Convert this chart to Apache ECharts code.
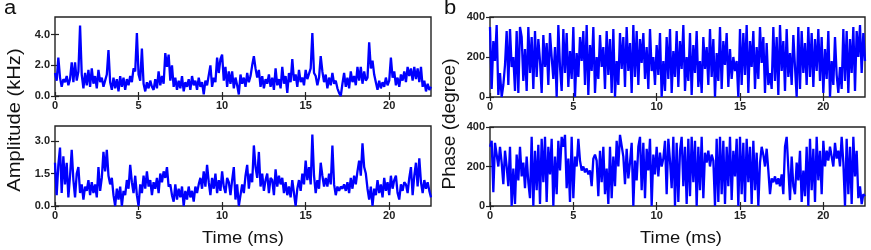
<!DOCTYPE html>
<html><head><meta charset="utf-8">
<script src="https://cdn.jsdelivr.net/npm/echarts@6/dist/echarts.min.js"></script>
<style>html,body{margin:0;padding:0;background:#fff}#c{width:871px;height:250px}</style>
</head><body><div id="c"></div>
<script>
// sampling step of the time axis (ms)
var timeStep = 0.1;
var xTicks = [0, 5, 10, 15, 20];
var ampTopTicks = [0, 2, 4];
var ampBotTicks = [0, 1.5, 3];
var phaseTicks = [0, 200, 400];

var ampTop = [
1.5,1.0,2.5,1.2,0.6,1.1,0.9,1.3,0.7,1.1,
2.2,0.9,2.2,1.0,1.6,4.6,1.4,0.5,1.5,0.7,
1.7,0.6,1.8,0.8,1.3,0.5,1.7,0.9,1.2,0.6,
1.0,1.4,3.0,0.9,0.4,1.2,0.5,1.1,0.3,1.3,
0.6,1.2,0.4,1.1,0.7,1.3,0.9,1.8,1.6,4.1,
1.4,1.0,3.1,0.8,0.3,0.9,0.5,1.0,0.6,0.4,
1.1,0.5,1.6,0.7,1.3,0.8,2.8,1.9,2.7,1.0,
2.0,0.6,1.2,0.4,1.0,0.5,1.3,0.3,0.9,0.6,
1.1,0.4,1.3,0.7,1.0,0.4,1.2,0.6,0.9,0.1,
1.0,0.7,0.8,2.0,0.6,1.2,0.9,2.5,1.5,2.4,
2.7,1.0,1.9,0.6,1.6,0.8,1.6,0.5,1.2,0.7,
0.1,1.4,0.8,1.2,0.6,1.5,0.9,1.3,2.0,2.6,
1.8,1.2,1.7,0.6,1.3,0.5,1.1,0.8,1.4,0.6,
1.2,0.4,1.8,0.7,1.1,0.5,1.9,0.8,1.3,0.2,
1.5,0.9,2.4,1.0,1.4,0.6,1.7,0.9,1.2,0.7,
1.7,1.1,1.0,1.8,4.1,1.5,1.3,0.7,1.2,2.6,
1.6,0.9,1.4,0.5,1.2,0.7,1.5,0.8,1.0,0.5,
0.2,0.0,0.8,1.5,0.6,1.2,0.5,1.6,0.9,1.3,
0.7,1.9,1.0,1.9,0.8,1.6,1.0,1.2,3.5,1.8,
2.3,1.4,0.9,0.4,1.0,0.5,0.9,0.6,1.2,0.7,
1.0,2.5,1.2,1.6,0.7,1.2,0.6,1.4,1.0,1.6,
0.9,1.9,1.3,1.8,1.0,1.9,1.1,1.8,0.9,1.9,
0.6,1.0,0.3,0.8,0.4,0.6
];

var ampBot = [
2.0,0.5,1.9,2.7,0.6,2.3,1.0,2.0,0.4,1.4,
2.6,1.2,0.4,1.5,1.8,0.6,1.0,0.3,0.9,0.7,
1.2,0.5,1.1,0.6,1.0,0.4,1.8,0.7,1.3,2.5,
1.6,2.6,1.4,1.0,1.3,0.5,0.0,0.8,0.3,0.9,
0.0,0.7,0.5,1.2,0.8,1.9,1.1,0.6,1.4,0.5,
0.0,1.0,0.6,1.4,0.8,1.6,0.9,1.2,0.5,1.1,
0.8,1.3,0.6,1.5,1.1,1.6,1.3,1.8,0.9,1.0,
0.5,0.2,1.0,0.3,0.8,0.4,0.9,0.0,0.7,0.3,
0.9,0.4,0.7,0.2,0.9,0.6,1.0,1.3,0.8,1.6,
0.9,1.9,1.1,0.5,1.3,0.8,1.5,0.6,1.2,0.7,
1.6,0.9,0.6,1.3,1.1,0.5,1.2,1.8,0.3,1.0,
0.0,0.5,1.0,0.6,1.4,1.9,0.8,1.5,1.1,2.8,
1.8,1.3,2.5,0.9,1.5,0.7,1.2,1.5,0.6,1.3,
1.2,0.5,1.7,0.9,1.4,1.0,1.3,0.6,1.1,0.5,
0.9,0.4,1.2,0.6,0.0,0.8,1.2,0.7,1.5,1.0,
2.1,1.2,1.8,1.0,3.3,1.4,0.6,1.2,0.8,2.0,
1.4,0.9,1.3,0.9,1.5,1.0,2.8,1.0,0.5,0.9,
0.7,0.9,0.8,1.0,0.7,1.1,0.6,1.3,0.8,1.4,
1.0,1.6,2.1,1.4,2.9,1.8,1.5,0.8,0.3,0.9,
0.0,0.8,0.5,1.2,0.6,1.0,0.4,1.3,0.7,1.1,
0.5,1.4,0.8,1.2,1.4,0.6,0.3,1.0,0.7,1.1,
1.0,0.6,1.3,1.8,0.5,1.4,2.0,0.9,2.2,1.1,
0.6,1.2,0.8,1.1,0.7,0.4
];

var phaseTop = [
350,40,280,180,360,10,120,0,60,160,
330,60,340,150,200,30,330,20,350,300,
80,240,30,350,120,300,40,330,100,290,
180,20,310,150,270,60,320,200,90,250,
0,360,150,30,340,120,320,50,230,90,
350,0,220,100,300,180,330,60,360,10,
260,130,350,20,200,90,310,150,250,40,
330,110,290,20,340,0,180,60,320,140,
300,50,350,130,270,20,360,100,330,60,
290,170,320,90,250,40,340,130,200,60,
260,110,320,0,180,30,300,90,340,20,
230,100,330,50,280,140,360,30,200,80,
320,10,260,120,330,50,180,20,300,140,
250,60,340,100,290,0,220,80,350,40,
280,160,320,50,240,90,200,130,180,0,
340,60,320,110,360,20,280,150,330,40,
250,90,350,170,300,20,270,60,120,40,
350,80,300,10,360,130,280,30,340,100,
220,60,310,150,0,350,40,330,120,270,
60,350,100,320,50,290,130,340,80,300,
20,240,90,330,0,180,60,300,110,20,
150,40,340,80,330,20,290,120,350,30,
330,200,360,120,320,180
];

var phaseBot = [
300,330,70,320,330,200,300,220,110,280,
200,100,300,0,190,10,260,130,300,150,
220,90,250,120,40,350,0,280,80,310,
10,340,120,350,20,300,160,340,0,250,
60,330,180,350,300,360,90,240,20,350,
40,250,200,340,230,180,200,170,190,160,
180,100,240,260,230,50,280,120,300,60,
190,10,300,40,250,100,330,200,360,355,
250,110,290,140,220,320,0,230,130,300,
350,80,320,40,290,180,340,0,260,160,
300,150,270,200,240,330,60,340,230,90,
350,0,320,20,280,350,100,300,10,340,
50,350,120,330,0,300,80,350,40,270,
220,280,200,260,230,0,340,20,350,60,
330,10,300,100,350,30,280,150,340,0,
350,60,320,20,340,120,300,10,330,80,
270,0,220,300,260,200,290,180,60,140,
120,150,110,140,100,160,60,300,350,340,
30,250,100,60,220,130,280,20,180,50,
300,0,340,80,290,20,350,130,280,60,
330,200,280,230,300,250,200,320,240,280,
200,350,220,0,340,60,300,10,350,150,
280,40,100,10,60,50
];

function pairs(arr){
  return arr.map(function(v,i){ return [+(i*timeStep).toFixed(2), v]; });
}

var labelStyle = {fontFamily:'Liberation Sans, Arial, sans-serif', fontWeight:'bold', fontSize:11, color:'#222'};
var grids = [
  {left:55, top:17, width:376, height:79},
  {left:55, top:126, width:376, height:80},
  {left:490, top:17, width:375, height:80},
  {left:490, top:127, width:375, height:79}
];
grids.forEach(function(g){ g.show = true; g.borderColor = '#222'; g.borderWidth = 1.4; g.backgroundColor = 'transparent'; });

var yCfg = [
  {max:5.15, ticks:ampTopTicks, fmt:function(v){return v.toFixed(1);}},
  {max:3.7, ticks:ampBotTicks, fmt:function(v){return v.toFixed(1);}},
  {max:400, ticks:phaseTicks, fmt:function(v){return String(v);}},
  {max:400, ticks:phaseTicks, fmt:function(v){return String(v);}}
];

var xAxes = [], yAxes = [], series = [];
var datasets = [ampTop, ampBot, phaseTop, phaseBot];
for (var i=0;i<4;i++){
  xAxes.push({type:'value', gridIndex:i, min:0, max:22.5, position:'bottom',
    axisLine:{show:false}, splitLine:{show:false},
    axisTick:{show:true, inside:true, length:4, customValues:xTicks, lineStyle:{color:'#222', width:1.2}},
    axisLabel:Object.assign({show:true, margin:4, customValues:xTicks}, labelStyle)});
  xAxes.push({type:'value', gridIndex:i, min:0, max:22.5, position:'top',
    axisLine:{show:false}, splitLine:{show:false},
    axisTick:{show:true, inside:true, length:4, customValues:xTicks, lineStyle:{color:'#222', width:1.2}},
    axisLabel:{show:false}});
  var yc = yCfg[i];
  yAxes.push({type:'value', gridIndex:i, min:0, max:yc.max, position:'left',
    axisLine:{show:false}, splitLine:{show:false},
    axisTick:{show:true, inside:true, length:4, customValues:yc.ticks, lineStyle:{color:'#222', width:1.2}},
    axisLabel:Object.assign({show:true, margin:5, customValues:yc.ticks, formatter:yc.fmt}, labelStyle)});
  yAxes.push({type:'value', gridIndex:i, min:0, max:yc.max, position:'right',
    axisLine:{show:false}, splitLine:{show:false},
    axisTick:{show:true, inside:true, length:4, customValues:yc.ticks, lineStyle:{color:'#222', width:1.2}},
    axisLabel:{show:false}});
  series.push({type:'line', xAxisIndex:2*i, yAxisIndex:2*i, data:pairs(datasets[i]),
    showSymbol:false, symbol:'none', lineStyle:{color:'#0000ff', width:2.3}, animation:false, clip:true});
}

var titleFont = 'Liberation Sans, Arial, sans-serif';
var chart = echarts.init(document.getElementById('c'), null, {renderer:'canvas'});
chart.setOption({
  animation:false,
  grid:grids, xAxis:xAxes, yAxis:yAxes, series:series,
  graphic:[
    {type:'text', x:4, y:8, scaleX:1.1, style:{text:'a', font:'20px '+titleFont, fill:'#111', align:'left', verticalAlign:'middle'}},
    {type:'text', x:444, y:8, scaleX:1.1, style:{text:'b', font:'20px '+titleFont, fill:'#111', align:'left', verticalAlign:'middle'}},
    {type:'text', x:15, y:120, rotation:Math.PI/2, scaleX:1.06, style:{text:'Amplitude (kHz)', font:'19px '+titleFont, fill:'#111', align:'center', verticalAlign:'middle'}},
    {type:'text', x:450, y:124, rotation:Math.PI/2, style:{text:'Phase (degree)', font:'19px '+titleFont, fill:'#111', align:'center', verticalAlign:'middle'}},
    {type:'text', x:243, y:238, scaleX:1.08, style:{text:'Time (ms)', font:'17px '+titleFont, fill:'#111', align:'center', verticalAlign:'middle'}},
    {type:'text', x:681, y:238, scaleX:1.08, style:{text:'Time (ms)', font:'17px '+titleFont, fill:'#111', align:'center', verticalAlign:'middle'}}
  ]
});
</script></body></html>
